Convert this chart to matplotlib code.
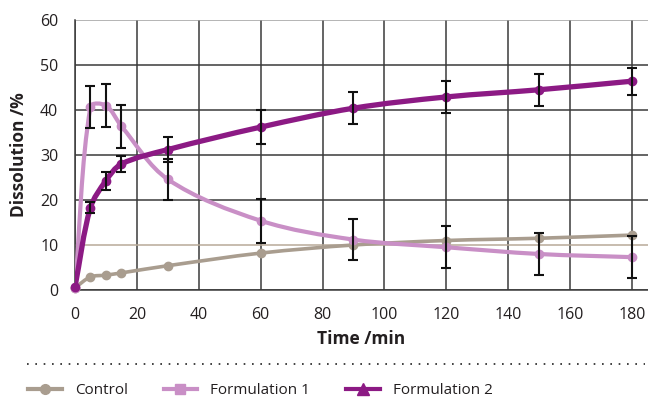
import numpy as np
import matplotlib
matplotlib.use("Agg")
import matplotlib.pyplot as plt
from matplotlib.path import Path
from matplotlib.patches import PathPatch
from matplotlib.lines import Line2D

plt.rcParams['font.family'] = ['Open Sans', 'DejaVu Sans']

# data
time_min = [0, 5, 10, 15, 30, 60, 90, 120, 150, 180]
control = [0.5, 2.9, 3.3, 3.8, 5.4, 8.2, 10.0, 11.0, 11.5, 12.2]
form1 = [0.5, 40.7, 41.0, 36.4, 24.6, 15.4, 11.2, 9.5, 8.0, 7.3]
form1_err = [0, 4.7, 4.7, 4.8, 4.5, 4.9, 4.6, 4.7, 4.6, 4.7]
form2 = [0.7, 18.3, 24.3, 28.0, 31.2, 36.2, 40.4, 42.9, 44.5, 46.4]
form2_err = [0, 1.2, 2.0, 1.8, 2.8, 3.7, 3.5, 3.5, 3.5, 3.0]

x_ticks = [0, 20, 40, 60, 80, 100, 120, 140, 160, 180]
y_ticks = [0, 10, 20, 30, 40, 50, 60]

C_CTRL = '#a99d8f'
C_F1 = '#c98fc6'
C_F2 = '#8c1a84'
TXT = '#231f20'


def smooth_path(ax, xs, ys):
    # smoothed line like a spreadsheet chart: cubic Beziers whose handles
    # are scaled by the neighbouring segment lengths (in display space)
    to_disp = ax.transData
    pts = to_disp.transform(np.column_stack([xs, ys]).astype(float))
    n = len(pts)

    def handle(i, toward):
        prev = pts[i - 1] if i > 0 else pts[i]
        nxt = pts[i + 1] if i + 1 < n else pts[i]
        d_prev = np.hypot(*(pts[i] - prev))
        d_next = np.hypot(*(nxt - pts[i]))
        tot = d_prev + d_next
        if tot == 0:
            return pts[i]
        d = d_next if toward > 0 else d_prev
        return pts[i] + toward * (nxt - prev) * d / tot / 3.0

    verts = [pts[0]]
    codes = [Path.MOVETO]
    for i in range(n - 1):
        verts += [handle(i, 1), handle(i + 1, -1), pts[i + 1]]
        codes += [Path.CURVE4] * 3
    inv = to_disp.inverted()
    return Path(inv.transform(np.array(verts)), codes)


fig = plt.figure(figsize=(6.48, 4.01), dpi=100)
ax = fig.add_axes([75 / 648, 1 - 290 / 401, 1 - 75 / 648, 270 / 401])

ax.set_xlim(0, 185.2)
ax.set_ylim(0, 60)
ax.set_xticks(x_ticks)
ax.set_yticks(y_ticks)
ax.tick_params(length=0, labelsize=11.5, colors=TXT)
ax.tick_params(axis='y', pad=12)
ax.tick_params(axis='x', pad=12)

ax.grid(True, color='#3a3a3a', linewidth=1.1, zorder=0)
ax.set_axisbelow(True)
ylines = ax.yaxis.get_gridlines()
ylines[1].set_visible(False)
ylines[6].set_color('#a0a0a0')
ax.axhline(10, color='#b8aa98', linewidth=1.1, zorder=1)

for side in ['top', 'right']:
    ax.spines[side].set_visible(False)
ax.spines['left'].set_color('#3a3a3a')
ax.spines['bottom'].set_color('#3a3a3a')
ax.spines['left'].set_linewidth(1.1)
ax.spines['bottom'].set_linewidth(1.1)

series = [
    (control, C_CTRL, 2.6),
    (form1, C_F1, 3.0),
    (form2, C_F2, 3.8),
]
for ys, col, lw in series:
    ax.add_patch(PathPatch(smooth_path(ax, time_min, ys), facecolor='none',
                           edgecolor=col, linewidth=lw, capstyle='round',
                           zorder=3))
    ax.plot(time_min, ys, linestyle='none', marker='o', markersize=6,
            color=col, zorder=4, clip_on=False)

ax.errorbar(time_min[1:], form1[1:], yerr=form1_err[1:], fmt='none',
            ecolor='#111111', elinewidth=1.5, capsize=3.5, capthick=1.5,
            zorder=5)
ax.errorbar(time_min[1:], form2[1:], yerr=form2_err[1:], fmt='none',
            ecolor='#111111', elinewidth=1.5, capsize=3.5, capthick=1.5,
            zorder=5)

ax.set_xlabel('Time /min', fontsize=12.5, fontweight='bold', color=TXT,
              labelpad=5)
ax.set_ylabel('Dissolution /%', fontsize=12.5, fontweight='bold', color=TXT,
              labelpad=9)

# dotted separator above the legend
fig.add_artist(Line2D([27 / 648, 645 / 648], [1 - 364 / 401, 1 - 364 / 401],
                      transform=fig.transFigure, color='#222222',
                      linewidth=1.2, linestyle=(0, (1, 4))))

handles = [
    Line2D([], [], color=C_CTRL, linewidth=3, marker='o', markersize=7),
    Line2D([], [], color=C_F1, linewidth=3, marker='s', markersize=7),
    Line2D([], [], color=C_F2, linewidth=3, marker='^', markersize=9),
]
labels = ['Control', 'Formulation 1', 'Formulation 2']
fig.legend(handles, labels, loc='center left', ncol=3, frameon=False,
           bbox_to_anchor=(25 / 648, 1 - 391 / 401), fontsize=11,
           handlelength=2.2, handletextpad=0.85, columnspacing=2.35,
           labelcolor=TXT, borderaxespad=0, borderpad=0.2)

fig.savefig('out.png', dpi=100)
